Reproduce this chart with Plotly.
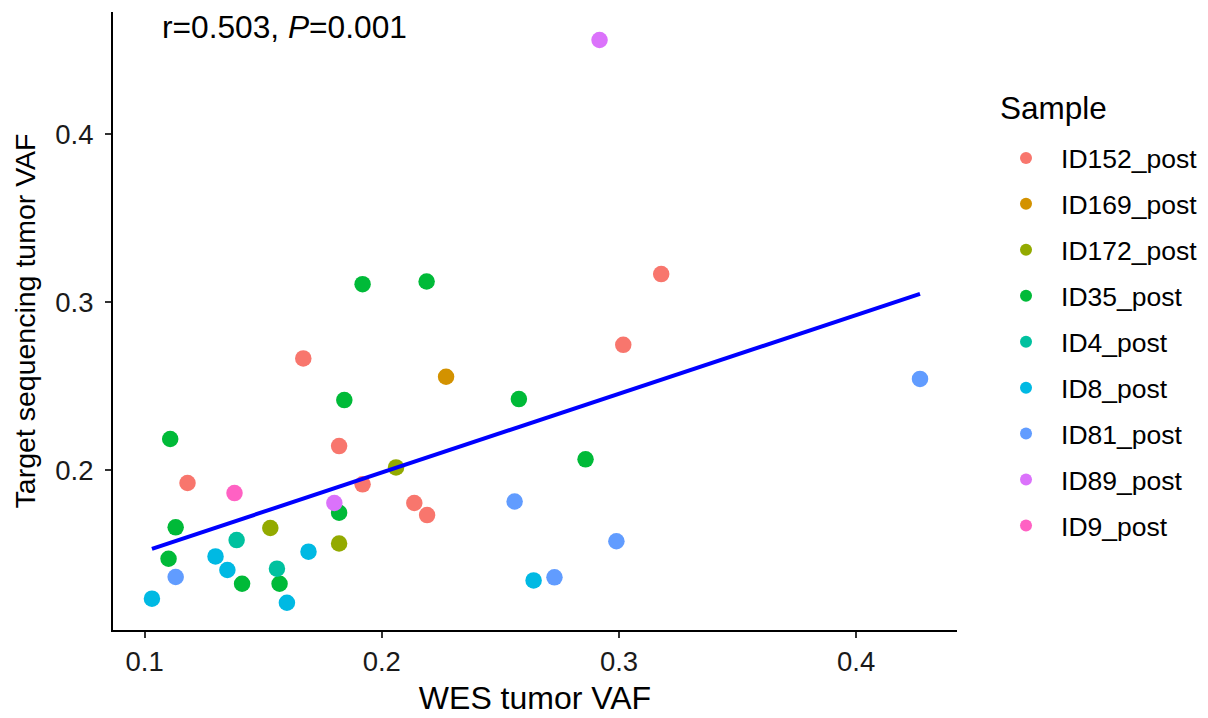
import numpy as np
import plotly.graph_objects as go

samples = ["ID152_post", "ID169_post", "ID172_post", "ID35_post", "ID4_post",
           "ID8_post", "ID81_post", "ID89_post", "ID9_post"]
colors = ["#F8766D", "#D39200", "#93AA00", "#00BA38", "#00C19F",
          "#00B9E3", "#619CFF", "#DB72FB", "#FF61C3"]

wes = {
    "ID152_post": [0.1669, 0.1820, 0.1181, 0.1919, 0.2137, 0.2191, 0.3178, 0.3018],
    "ID169_post": [0.2271],
    "ID172_post": [0.2060, 0.1530, 0.1820],
    "ID35_post": [0.1842, 0.1108, 0.1820, 0.1131, 0.1101, 0.1411, 0.1569, 0.1919, 0.2189, 0.2578, 0.2859],
    "ID4_post": [0.1388, 0.1558],
    "ID8_post": [0.1691, 0.1299, 0.1349, 0.1031, 0.1600, 0.2640],
    "ID81_post": [0.1131, 0.4269, 0.2560, 0.2989, 0.2728],
    "ID89_post": [0.1800, 0.2918],
    "ID9_post": [0.1379],
}
target = {
    "ID152_post": [0.2665, 0.2143, 0.1923, 0.1915, 0.1804, 0.1732, 0.3167, 0.2746],
    "ID169_post": [0.2556],
    "ID172_post": [0.2016, 0.1655, 0.1563],
    "ID35_post": [0.2417, 0.2185, 0.1746, 0.1659, 0.1472, 0.1323, 0.1323, 0.3107, 0.3123, 0.2423, 0.2064],
    "ID4_post": [0.1583, 0.1413],
    "ID8_post": [0.1514, 0.1486, 0.1405, 0.1234, 0.1210, 0.1343],
    "ID81_post": [0.1363, 0.2543, 0.1813, 0.1576, 0.1361],
    "ID89_post": [0.1804, 0.4561],
    "ID9_post": [0.1863],
}

x_ticks = [0.1, 0.2, 0.3, 0.4]
y_ticks = [0.2, 0.3, 0.4]
stat_label = "r=0.503, <i>P</i>=0.001"
legend_title = "Sample"

fig = go.Figure()
FONT = "Liberation Sans, Arial, sans-serif"

for s, c in zip(samples, colors):
    fig.add_trace(go.Scatter(
        x=wes[s], y=target[s], mode="markers", name=s, legendgroup=s,
        marker=dict(color=c, size=16.5, line=dict(width=0)),
    ))

all_x = np.concatenate([wes[s] for s in samples])
all_y = np.concatenate([target[s] for s in samples])
slope, intercept = np.polyfit(all_x, all_y, 1)
fx = np.linspace(all_x.min(), all_x.max(), 80)
fig.add_trace(go.Scatter(x=fx, y=intercept + slope * fx, mode="lines",
                         line=dict(color="#0000FF", width=4), showlegend=False,
                         hoverinfo="skip"))

fig.add_annotation(x=0.1066, y=0.4637, xref="x", yref="y", text=stat_label,
                   showarrow=False, xanchor="left", yanchor="middle",
                   font=dict(family=FONT, size=31.7, color="black"))

fig.add_annotation(x=1.0486, y=0.8439, xref="paper", yref="paper", text=legend_title,
                   showarrow=False, xanchor="left", yanchor="middle",
                   font=dict(family=FONT, size=31.5, color="black"))

axis_common = dict(showgrid=False, zeroline=False, showline=True, linecolor="black",
                   linewidth=2, ticks="outside", ticklen=6, tickwidth=2,
                   tickcolor="#333333", tickfont=dict(family=FONT, size=27.5, color="#1a1a1a"),
                   mirror=False, automargin=False)

# page body adds an 8px offset; figure is sized/margined to compensate
fig.update_layout(
    width=1200, height=710,
    margin=dict(l=105, r=251, t=4, b=88),
    paper_bgcolor="white", plot_bgcolor="white",
    xaxis=dict(range=[0.08668, 0.4425], tickvals=x_ticks, ticktext=[str(v) for v in x_ticks],
               title=dict(text="WES tumor VAF", font=dict(family=FONT, size=32, color="black"),
                          standoff=11), **axis_common),
    yaxis=dict(range=[0.10476, 0.4728], tickvals=y_ticks, ticktext=[str(v) for v in y_ticks],
               ticklabelstandoff=6,
               title=dict(text="Target sequencing tumor VAF",
                          font=dict(family=FONT, size=28.5, color="black"), standoff=11),
               **axis_common),
    legend=dict(font=dict(family=FONT, size=26.5, color="black"),
                x=1.0403, xanchor="left", y=0.8023, yanchor="top",
                tracegroupgap=8.5, itemsizing="constant", itemwidth=60),
    showlegend=True,
)

fig.write_html("out.html")
